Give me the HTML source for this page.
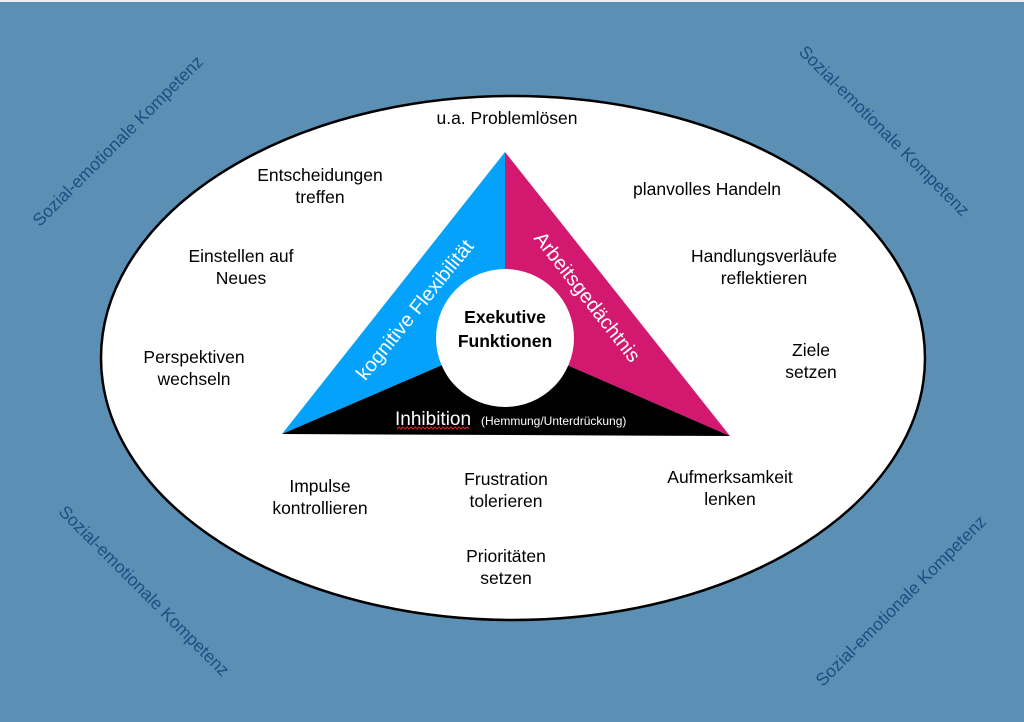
<!DOCTYPE html>
<html><head><meta charset="utf-8"><style>
html,body{margin:0;padding:0;width:1024px;height:722px;overflow:hidden;background:#5b8fb4}
svg{display:block}
text{font-family:"Liberation Sans",Arial,sans-serif}
</style></head><body>
<svg width="1024" height="722" viewBox="0 0 1024 722" xmlns="http://www.w3.org/2000/svg">
<rect x="0" y="0" width="1024" height="722" fill="#5b8fb4"/>
<rect x="0" y="0" width="1024" height="2" fill="#e8eef3"/>
<ellipse cx="513" cy="358" rx="412" ry="262" fill="#fff" stroke="#000" stroke-width="2.5"/>
<g fill="#1d4f82" font-size="17.5" text-anchor="middle">
<text transform="translate(122,145) rotate(-45)">Sozial-emotionale Kompetenz</text>
<text transform="translate(880,135) rotate(45)">Sozial-emotionale Kompetenz</text>
<text transform="translate(140,595) rotate(45)">Sozial-emotionale Kompetenz</text>
<text transform="translate(905,605) rotate(-45)">Sozial-emotionale Kompetenz</text>
</g>
<polygon points="505,152 505,338 282,434" fill="#04a2fb"/>
<polygon points="505,152 730,436 505,338" fill="#d3186f"/>
<polygon points="282,434 505,338 730,436" fill="#000"/>
<circle cx="505" cy="338" r="69" fill="#fff"/>
<g font-size="17.5" fill="#000" font-weight="bold" text-anchor="middle">
<text x="505" y="323">Exekutive</text>
<text x="505" y="347">Funktionen</text>
</g>
<text transform="translate(420,314) rotate(-51)" text-anchor="middle" fill="#fff" font-size="20">kognitive Flexibilität</text>
<text transform="translate(582,301) rotate(52)" text-anchor="middle" fill="#fff" font-size="20">Arbeitsgedächtnis</text>
<text x="395" y="425" fill="#fff" font-size="19">Inhibition</text>
<text x="481" y="425" fill="#fff" font-size="12">(Hemmung/Unterdrückung)</text>
<path d="M397,429 l2,-2 l2,2 l2,-2 l2,2 l2,-2 l2,2 l2,-2 l2,2 l2,-2 l2,2 l2,-2 l2,2 l2,-2 l2,2 l2,-2 l2,2 l2,-2 l2,2 l2,-2 l2,2 l2,-2 l2,2 l2,-2 l2,2 l2,-2 l2,2 l2,-2 l2,2 l2,-2 l2,2 l2,-2 l2,2 l2,-2 l2,2 l2,-2 l2,2" stroke="#e02020" fill="none" stroke-width="1"/>
<g font-size="17.5" fill="#000" text-anchor="middle">
<text x="507" y="124">u.a. Problemlösen</text>
<text x="320" y="181">Entscheidungen</text>
<text x="320" y="203">treffen</text>
<text x="241" y="262">Einstellen auf</text>
<text x="241" y="284">Neues</text>
<text x="194" y="363">Perspektiven</text>
<text x="194" y="385">wechseln</text>
<text x="707" y="195">planvolles Handeln</text>
<text x="764" y="262">Handlungsverläufe</text>
<text x="764" y="284">reflektieren</text>
<text x="811" y="356">Ziele</text>
<text x="811" y="378">setzen</text>
<text x="320" y="492">Impulse</text>
<text x="320" y="514">kontrollieren</text>
<text x="506" y="485">Frustration</text>
<text x="506" y="507">tolerieren</text>
<text x="730" y="483">Aufmerksamkeit</text>
<text x="730" y="505">lenken</text>
<text x="506" y="562">Prioritäten</text>
<text x="506" y="584">setzen</text>
</g>
</svg>
</body></html>
